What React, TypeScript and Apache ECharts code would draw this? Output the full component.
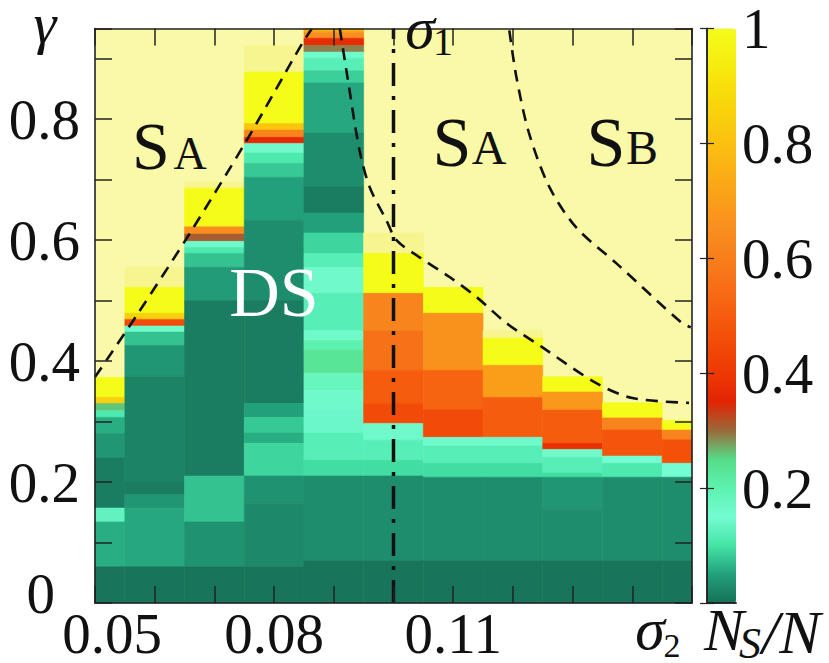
import React, { useEffect, useRef } from "react";
import * as echarts from "echarts";

// sigma2 column centres
const sigma2Columns = [0.05, 0.06, 0.07, 0.08, 0.09, 0.1, 0.11, 0.12, 0.13, 0.14, 0.15];

// bands per column: [gammaLow, gammaHigh, Ns/N]  (1.1 = faded cell above the colour range)
const col005 = [
  [0.34, 0.373, 1.0], [0.33, 0.34, 0.85], [0.318, 0.33, 0.26], [0.307, 0.318, 0.11],
  [0.28, 0.307, 0.06], [0.24, 0.28, 0.04], [0.157, 0.24, 0.012], [0.134, 0.157, 0.13],
  [0.06, 0.134, 0.06], [0.0, 0.06, 0.005],
];
const col006 = [
  [0.522, 0.555, 1.1],
  [0.479, 0.522, 1.0], [0.469, 0.479, 0.85], [0.458, 0.469, 0.45], [0.448, 0.458, 0.16],
  [0.426, 0.448, 0.075], [0.375, 0.426, 0.04], [0.2, 0.375, 0.02], [0.179, 0.2, 0.012],
  [0.157, 0.179, 0.04], [0.06, 0.157, 0.055], [0.0, 0.06, 0.005],
];
const col007 = [
  [0.686, 0.696, 1.1],
  [0.622, 0.686, 1.0], [0.61, 0.622, 0.65], [0.598, 0.61, 0.31], [0.588, 0.598, 0.16],
  [0.578, 0.588, 0.11], [0.555, 0.578, 0.075], [0.5, 0.555, 0.045], [0.21, 0.5, 0.012],
  [0.134, 0.21, 0.075], [0.06, 0.134, 0.035], [0.0, 0.06, 0.005],
];
const col008 = [
  [0.878, 0.922, 1.1],
  [0.793, 0.878, 1.0], [0.782, 0.793, 0.82], [0.77, 0.782, 0.62], [0.76, 0.77, 0.36],
  [0.744, 0.76, 0.16], [0.727, 0.744, 0.11], [0.704, 0.727, 0.08], [0.633, 0.704, 0.05],
  [0.5, 0.633, 0.03], [0.33, 0.5, 0.012], [0.307, 0.33, 0.05], [0.281, 0.307, 0.08],
  [0.264, 0.281, 0.06], [0.21, 0.264, 0.09], [0.165, 0.21, 0.035], [0.06, 0.165, 0.025],
  [0.0, 0.06, 0.005],
];
const col009 = [
  [0.944, 0.95, 0.75], [0.934, 0.944, 0.65], [0.922, 0.934, 0.37], [0.911, 0.922, 0.29],
  [0.901, 0.911, 0.16], [0.88, 0.901, 0.12], [0.86, 0.88, 0.085], [0.777, 0.86, 0.055],
  [0.688, 0.777, 0.03], [0.645, 0.688, 0.012], [0.612, 0.645, 0.05], [0.578, 0.612, 0.09],
  [0.555, 0.578, 0.12], [0.512, 0.555, 0.16], [0.45, 0.512, 0.12], [0.434, 0.45, 0.16],
  [0.418, 0.434, 0.2], [0.38, 0.418, 0.23], [0.352, 0.38, 0.18], [0.319, 0.352, 0.16],
  [0.281, 0.319, 0.14], [0.236, 0.281, 0.12], [0.21, 0.236, 0.095], [0.07, 0.21, 0.03],
  [0.0, 0.07, 0.005],
];
const col010 = [
  [0.578, 0.612, 1.1],
  [0.512, 0.578, 1.0], [0.45, 0.512, 0.62], [0.385, 0.45, 0.56], [0.33, 0.385, 0.5],
  [0.297, 0.33, 0.45], [0.269, 0.297, 0.16], [0.236, 0.269, 0.12], [0.21, 0.236, 0.095],
  [0.07, 0.21, 0.03], [0.0, 0.07, 0.005],
];
const col011 = [
  [0.479, 0.522, 1.0], [0.385, 0.479, 0.66], [0.319, 0.385, 0.52], [0.274, 0.319, 0.45],
  [0.26, 0.274, 0.16], [0.231, 0.26, 0.12], [0.208, 0.231, 0.095], [0.07, 0.208, 0.03],
  [0.0, 0.07, 0.005],
];
const col012 = [
  [0.438, 0.451, 1.1],
  [0.393, 0.438, 1.0], [0.34, 0.393, 0.7], [0.274, 0.34, 0.5], [0.26, 0.274, 0.16],
  [0.231, 0.26, 0.12], [0.208, 0.231, 0.095], [0.07, 0.208, 0.03], [0.0, 0.07, 0.005],
];
const col013 = [
  [0.349, 0.374, 1.0], [0.319, 0.349, 0.68], [0.264, 0.319, 0.5], [0.254, 0.264, 0.38],
  [0.241, 0.254, 0.16], [0.215, 0.241, 0.12], [0.208, 0.215, 0.095], [0.155, 0.208, 0.04],
  [0.07, 0.155, 0.03], [0.0, 0.07, 0.005],
];
const col014 = [
  [0.306, 0.331, 1.0], [0.286, 0.306, 0.62], [0.243, 0.286, 0.48], [0.231, 0.243, 0.15],
  [0.208, 0.231, 0.11], [0.07, 0.208, 0.03], [0.0, 0.07, 0.005],
];
const col015 = [
  [0.286, 0.302, 1.0], [0.27, 0.286, 0.62], [0.231, 0.27, 0.47], [0.208, 0.231, 0.15],
  [0.07, 0.208, 0.03], [0.0, 0.07, 0.005],
];
const columnBands = [col005, col006, col007, col008, col009, col010, col011, col012, col013, col014, col015];

// phase boundaries [sigma2, gamma]
const boundaryLeft = [
  [0.05, 0.3736], [0.057, 0.476], [0.0659, 0.6116], [0.0754, 0.765], [0.0848, 0.927], [0.0863, 0.949],
];
const boundaryMiddle = [
  [0.091, 0.95], [0.0923, 0.869], [0.0943, 0.749], [0.096, 0.688], [0.0988, 0.633], [0.1005, 0.6],
  [0.1043, 0.572], [0.1094, 0.539], [0.1139, 0.506], [0.1189, 0.463], [0.1249, 0.423],
  [0.1339, 0.364], [0.14, 0.339], [0.1495, 0.331],
];
const boundaryRight = [
  [0.1194, 0.947], [0.1206, 0.869], [0.1227, 0.777], [0.1261, 0.688], [0.1306, 0.621],
  [0.1373, 0.562], [0.1483, 0.463], [0.1498, 0.456],
];
const sigma1Line = [[0.1, 0.0], [0.1, 0.95]];

const xTickLabels = [0.05, 0.08, 0.11];
const yTickLabels = [0, 0.2, 0.4, 0.6, 0.8];
const cbTickLabels = [0.2, 0.4, 0.6, 0.8, 1];

const colormap = [
  "#177058", "#22a07c", "#45e4a6", "#74fcd2", "#5ef2b0", "#55dc88", "#9a6a3a",
  "#e22404", "#ee3804", "#f24a08", "#f55c0e", "#f76e16", "#f87e1c", "#f98e1e",
  "#fa9e1a", "#fab014", "#fbc010", "#f9d00c", "#f8e00a", "#f6f010", "#f4fc18",
];
const FADED = "#f7f590";
const PALE = "#f9f9a8";

const FONT = "Liberation Serif";
const INK = "#111";

export default function App() {
  const ref = useRef<HTMLDivElement>(null);
  useEffect(() => {
    if (!ref.current) return;
    const chart = echarts.init(ref.current, undefined, { renderer: "svg" });
    const cellWidth = sigma2Columns[1] - sigma2Columns[0];
    const cells: number[][] = [];
    sigma2Columns.forEach((x, i) => {
      columnBands[i].forEach((b) => cells.push([x, b[0], b[1], b[2]]));
    });

    const tickStyle = { color: "#222", width: 1.5 };
    const mainAxisCommon = {
      type: "value" as const,
      z: 10,
      splitLine: { show: false },
      axisLine: { show: true, onZero: false, lineStyle: { color: "#222", width: 1.6 } },
      axisTick: { show: true, inside: true, length: 17, lineStyle: tickStyle },
    };
    const labelText = { fontSize: 57, fontFamily: FONT, color: INK, lineHeight: 50 };

    const txt = (text: string, x: number, y: number, size: number, opts: any = {}) => ({
      type: "text", z: 100, x, y,
      style: {
        text, fontSize: size, fontFamily: FONT, fill: opts.fill || INK,
        fontStyle: opts.italic ? "italic" : "normal",
        align: opts.align || "center", verticalAlign: "middle", lineHeight: Math.round(size * 0.72),
      },
    });

    const option: any = {
      animation: false,
      backgroundColor: "#ffffff",
      grid: [
        { left: 95, top: 28.5, width: 597, height: 574.5, show: true, backgroundColor: PALE, borderWidth: 0 },
        { left: 707, top: 28.5, width: 29, height: 574.5, show: false },
      ],
      xAxis: [
        {
          ...mainAxisCommon, gridIndex: 0, position: "bottom", min: 0.05, max: 0.15, interval: 0.01,
          axisLabel: {
            show: true, margin: 5, showMinLabel: true, showMaxLabel: true, ...labelText,
            formatter: (v: number) => {
              const hit = xTickLabels.find((t) => Math.abs(t - v) < 1e-6);
              if (hit === undefined) return "";
              return hit === xTickLabels[0] ? `{first|${hit.toFixed(2)}}` : `{n|${hit.toFixed(2)}}`;
            },
            rich: {
              first: { ...labelText, padding: [0, 0, 0, 34] },
              n: { ...labelText },
            },
          },
        },
        { ...mainAxisCommon, gridIndex: 0, position: "top", min: 0.05, max: 0.15, interval: 0.01, axisLabel: { show: false } },
        {
          type: "value", gridIndex: 1, position: "bottom", min: 0, max: 1, z: 10,
          axisLine: { show: true, lineStyle: { color: "#222", width: 1.5 } },
          axisTick: { show: false }, axisLabel: { show: false }, splitLine: { show: false },
        },
        {
          type: "value", gridIndex: 1, position: "top", min: 0, max: 1, z: 10,
          axisLine: { show: true, lineStyle: { color: "#222", width: 1.5 } },
          axisTick: { show: false }, axisLabel: { show: false }, splitLine: { show: false },
        },
      ],
      yAxis: [
        {
          ...mainAxisCommon, gridIndex: 0, position: "left", min: 0, max: 0.95, interval: 0.1,
          axisLabel: {
            show: true, margin: 15, showMinLabel: true, showMaxLabel: true, ...labelText,
            formatter: (v: number) => {
              const hit = yTickLabels.find((t) => Math.abs(t - v) < 1e-6);
              if (hit === undefined) return "";
              return hit === 0 ? "{zero|0}" : `{n|${hit.toFixed(1)}}`;
            },
            rich: {
              zero: { ...labelText, padding: [0, 25, 20, 0] },
              n: { ...labelText },
            },
          },
        },
        { ...mainAxisCommon, gridIndex: 0, position: "right", min: 0, max: 0.95, interval: 0.1, axisLabel: { show: false } },
        {
          type: "value", gridIndex: 1, position: "right", min: 0, max: 1, interval: 0.2, z: 10,
          splitLine: { show: false },
          axisLine: { show: true, lineStyle: { color: "#222", width: 1.5 } },
          axisTick: { show: true, inside: true, length: 7, lineStyle: { color: "#222", width: 1.2 } },
          axisLabel: {
            show: true, margin: 6, ...labelText, showMinLabel: true, showMaxLabel: true,
            formatter: (v: number) => {
              const hit = cbTickLabels.find((t) => Math.abs(t - v) < 1e-6);
              if (hit === undefined) return "";
              return hit === 1 ? "1" : hit.toFixed(1);
            },
          },
        },
        {
          type: "value", gridIndex: 1, position: "left", min: 0, max: 1, interval: 0.2, z: 10,
          splitLine: { show: false },
          axisLine: { show: true, lineStyle: { color: "#222", width: 1.5 } },
          axisTick: { show: true, inside: true, length: 7, lineStyle: { color: "#222", width: 1.2 } },
          axisLabel: { show: false },
        },
      ],
      visualMap: {
        type: "continuous",
        min: 0, max: 1,
        seriesIndex: 0,
        dimension: 3,
        calculable: false,
        orient: "vertical",
        left: 707, top: 28.5,
        itemWidth: 29, itemHeight: 574.5,
        padding: 0,
        text: null,
        showLabel: false,
        inRange: { color: colormap },
      },
      series: [
        {
          type: "custom",
          xAxisIndex: 0, yAxisIndex: 0,
          encode: { x: 0, y: [1, 2] },
          data: cells,
          silent: true,
          renderItem: (params: any, api: any) => {
            const x = api.value(0), y0 = api.value(1), y1 = api.value(2), v = api.value(3);
            const p0 = api.coord([x - cellWidth / 2, y1]);
            const p1 = api.coord([x + cellWidth / 2, y0]);
            const rect = echarts.graphic.clipRectByRect(
              { x: p0[0], y: p0[1], width: p1[0] - p0[0], height: p1[1] - p0[1] },
              { x: params.coordSys.x, y: params.coordSys.y, width: params.coordSys.width, height: params.coordSys.height }
            );
            if (!rect) return;
            const color = v > 1 ? FADED : api.visual("color");
            return { type: "rect", shape: rect, style: { fill: color, stroke: color, lineWidth: 0.6 } };
          },
        },
        ...[boundaryLeft, boundaryMiddle, boundaryRight].map((d) => ({
          type: "line", xAxisIndex: 0, yAxisIndex: 0, data: d, showSymbol: false, smooth: 0.3,
          silent: true, lineStyle: { color: INK, width: 2.6, type: [12, 8] },
        })),
        {
          type: "line", xAxisIndex: 0, yAxisIndex: 0, data: sigma1Line, showSymbol: false, silent: true,
          lineStyle: { color: INK, width: 3.5, type: [23, 10, 4, 10] },
        },
      ],
      graphic: [
        txt("γ", 45, 23, 58, { italic: true }),
        txt("S", 151, 146, 68),
        txt("A", 190, 153, 46),
        txt("S", 452, 142, 70),
        txt("A", 489, 147, 48),
        txt("S", 606, 142, 70),
        txt("B", 642, 147, 48),
        txt("DS", 274, 292, 70, { fill: "#ffffff" }),
        txt("σ", 420, 28, 60, { italic: true }),
        txt("1", 443, 41, 40),
        txt("σ", 650, 629, 60, { italic: true }),
        txt("2", 672, 645, 34),
        txt("N", 724, 630, 60, { italic: true }),
        txt("S", 750, 643, 44, { italic: true }),
        txt("/N", 762, 632, 62, { italic: true, align: "left" }),
      ],
    };
    chart.setOption(option);
    return () => chart.dispose();
  }, []);
  return (
    <div
      ref={ref}
      style={{ position: "fixed", left: 0, top: 0, width: 829, height: 663, background: "#fff" }}
    />
  );
}
